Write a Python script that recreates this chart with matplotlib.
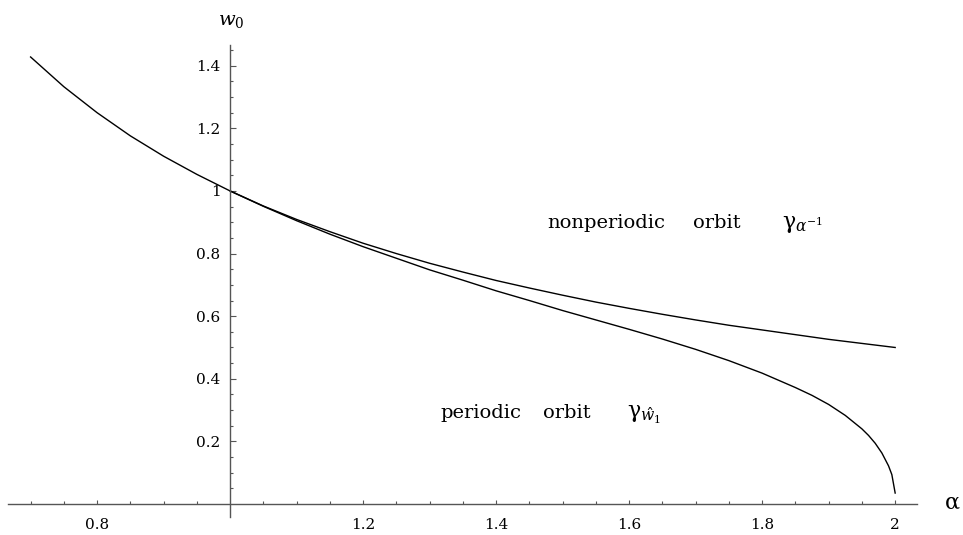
import matplotlib.pyplot as plt

plt.rcParams['font.family'] = ['DejaVu Serif']
plt.rcParams['mathtext.fontset'] = 'dejavuserif'

# upper curve (nonperiodic orbit)
alpha_upper = [0.70, 0.75, 0.80, 0.85, 0.90, 0.95, 1.00, 1.05, 1.10, 1.15,
               1.20, 1.25, 1.30, 1.35, 1.40, 1.45, 1.50, 1.55, 1.60, 1.65,
               1.70, 1.75, 1.80, 1.85, 1.90, 1.95, 2.00]
w_upper = [1.428, 1.333, 1.250, 1.176, 1.111, 1.053, 1.000, 0.952, 0.909, 0.870,
           0.833, 0.800, 0.769, 0.741, 0.714, 0.690, 0.667, 0.645, 0.625, 0.606,
           0.588, 0.571, 0.556, 0.541, 0.526, 0.513, 0.500]

# lower curve (periodic orbit)
alpha_lower = [1.00, 1.05, 1.10, 1.15, 1.20, 1.25, 1.30, 1.35, 1.40, 1.45,
               1.50, 1.55, 1.60, 1.65, 1.70, 1.75, 1.80, 1.85, 1.875, 1.90,
               1.925, 1.95, 1.96, 1.97, 1.98, 1.99, 1.995, 2.00]
w_lower = [1.000, 0.951, 0.905, 0.862, 0.822, 0.785, 0.748, 0.715, 0.681, 0.650,
           0.618, 0.588, 0.558, 0.527, 0.494, 0.458, 0.418, 0.372, 0.347, 0.318,
           0.283, 0.240, 0.219, 0.194, 0.163, 0.122, 0.094, 0.035]

x_ticks = [0.8, 1.2, 1.4, 1.6, 1.8, 2.0]
x_labels = ['0.8', '1.2', '1.4', '1.6', '1.8', '2']
y_ticks = [0.2, 0.4, 0.6, 0.8, 1.0, 1.2, 1.4]
y_labels = ['0.2', '0.4', '0.6', '0.8', '1', '1.2', '1.4']

fig = plt.figure(figsize=(9.63, 5.35), dpi=100)
ax = fig.add_axes([0, 0, 1, 1])
ax.set_xlim(0.654, 2.102)
ax.set_ylim(-0.099, 1.610)

ax.plot(alpha_upper, w_upper, color='black', lw=1.0)
ax.plot(alpha_lower, w_lower, color='black', lw=1.0)

# Mathematica style crossing axes
axis_col = '#555555'
for s in ['top', 'right']:
    ax.spines[s].set_visible(False)
ax.spines['left'].set_position(('data', 1.0))
ax.spines['bottom'].set_position(('data', 0.0))
ax.spines['left'].set_bounds(-0.042, 1.466)
ax.spines['bottom'].set_bounds(0.666, 2.033)
for s in ['left', 'bottom']:
    ax.spines[s].set_color(axis_col)
    ax.spines[s].set_linewidth(1.0)

ax.set_xticks(x_ticks)
ax.set_xticklabels(x_labels)
ax.set_xticks([0.70 + 0.05 * i for i in range(27) if i % 4 != 2], minor=True)
ax.set_yticks(y_ticks)
ax.set_yticklabels(y_labels)
ax.set_yticks([0.05 * i for i in range(1, 30) if i % 4 != 0], minor=True)

ax.tick_params(axis='x', which='major', direction='in', length=3.2, width=0.8,
               color=axis_col, pad=10, labelsize=11)
ax.tick_params(axis='x', which='minor', direction='in', length=2.0, width=0.8,
               color=axis_col)
ax.tick_params(axis='y', which='major', direction='in', length=4.0, width=0.8,
               color=axis_col, pad=7, labelsize=11)
ax.tick_params(axis='y', which='minor', direction='in', length=2.4, width=0.8,
               color=axis_col)

ax.text(0.982, 1.530, r'$w_0$', fontsize=14, va='baseline', ha='left')
ax.text(2.074, 0.005, 'α', fontsize=16, va='center', ha='left')

fs = 14
ax.text(1.477, 0.882, 'nonperiodic', fontsize=fs, va='baseline')
ax.text(1.696, 0.882, 'orbit', fontsize=fs, va='baseline')
ax.text(1.830, 0.882, r'$\mathrm{\gamma}_{\alpha^{-1}}$', fontsize=fs + 2, va='baseline')

ax.text(1.316, 0.275, 'periodic', fontsize=fs, va='baseline')
ax.text(1.471, 0.275, 'orbit', fontsize=fs, va='baseline')
ax.text(1.597, 0.275, r'$\mathrm{\gamma}_{\hat{w}_1}$', fontsize=fs + 2, va='baseline')

fig.savefig('out.png', dpi=100)
